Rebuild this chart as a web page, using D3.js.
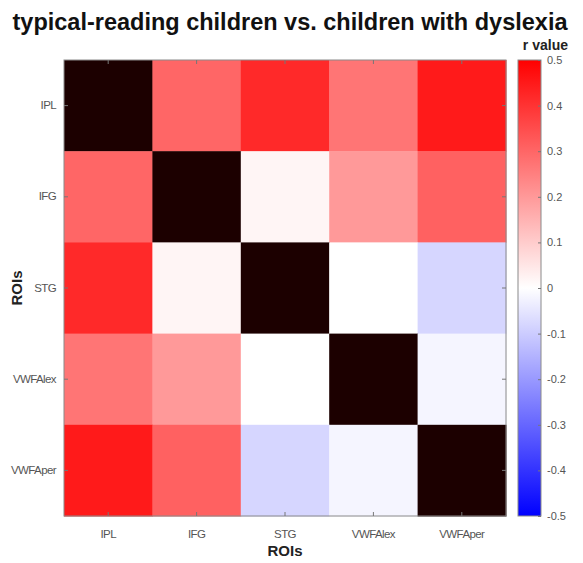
<!DOCTYPE html>
<html><head><meta charset="utf-8">
<script src="https://cdn.jsdelivr.net/npm/d3@7"></script>
<style>body{margin:0;background:#fff}</style>
</head><body>
<svg id="c" width="583" height="563"></svg>
<script>
const rois = ["IPL","IFG","STG","VWFAlex","VWFAper"];
// upper-triangle r values (symmetric matrix); diagonal drawn dark
const pairs = [
  ["IPL","IFG",0.30],["IPL","STG",0.42],["IPL","VWFAlex",0.27],["IPL","VWFAper",0.45],
  ["IFG","STG",0.02],["IFG","VWFAlex",0.20],["IFG","VWFAper",0.31],
  ["STG","VWFAlex",0.0],["STG","VWFAper",-0.08],
  ["VWFAlex","VWFAper",-0.02]
];
const cbTicks = [0.5,0.4,0.3,0.2,0.1,0,-0.1,-0.2,-0.3,-0.4,-0.5];
const titleText = "typical-reading children vs. children with dyslexia";

const cells = [];
rois.forEach(r=>rois.forEach(c=>{
  if(r===c){cells.push({r,c,v:null});return;}
  const p = pairs.find(d=>(d[0]===r&&d[1]===c)||(d[0]===c&&d[1]===r));
  cells.push({r,c,v:p[2]});
}));

const svg = d3.select("#c");
const L=64,R=506,T=60,B=516;
const x = d3.scaleBand().domain(rois).range([L,R]);
const y = d3.scaleBand().domain(rois).range([T,B]);
const color = d3.scaleLinear().domain([-0.5,0,0.5]).range(["#0000ff","#ffffff","#ff0000"]).clamp(true);

svg.append("g").selectAll("rect").data(cells).join("rect")
  .attr("x",d=>x(d.c)).attr("y",d=>y(d.r))
  .attr("width",x.bandwidth()+0.5).attr("height",y.bandwidth()+0.5)
  .attr("fill",d=>d.v===null?"#1c0000":color(d.v));

svg.append("rect").attr("x",L).attr("y",T).attr("width",R-L).attr("height",B-T)
  .attr("fill","none").attr("stroke","#8a8a8a").attr("stroke-width",1);

const tickCol="#777";
const font="Liberation Sans, Arial, sans-serif";
// axes
const xb = svg.append("g").attr("transform",`translate(0,${B})`)
  .call(d3.axisBottom(x).tickSizeInner(-4).tickSizeOuter(0).tickPadding(14));
const xt = svg.append("g").attr("transform",`translate(0,${T})`)
  .call(d3.axisTop(x).tickSizeInner(-4).tickSizeOuter(0).tickFormat(""));
const yl = svg.append("g").attr("transform",`translate(${L},0)`)
  .call(d3.axisLeft(y).tickSizeInner(-4).tickSizeOuter(0).tickPadding(8));
const yr = svg.append("g").attr("transform",`translate(${R},0)`)
  .call(d3.axisRight(y).tickSizeInner(-4).tickSizeOuter(0).tickFormat(""));
[xb,xt,yl,yr].forEach(g=>{
  g.select(".domain").remove();
  g.selectAll("line").attr("stroke",tickCol);
  g.selectAll("text").attr("fill","#555").style("font-family",font).style("font-size","11.5px").attr("letter-spacing","-0.6px");
});

// colorbar
const CL=518,CR=541;
const cy = d3.scaleLinear().domain([-0.5,0.5]).range([B,T]);
const defs = svg.append("defs");
const grad = defs.append("linearGradient").attr("id","g").attr("x1",0).attr("y1",1).attr("x2",0).attr("y2",0);
grad.selectAll("stop").data([-0.5,0,0.5]).join("stop")
  .attr("offset",d=>(d+0.5)).attr("stop-color",d=>color(d));
svg.append("rect").attr("x",CL).attr("y",T).attr("width",CR-CL).attr("height",B-T)
  .attr("fill","url(#g)").attr("stroke","#8a8a8a").attr("stroke-width",1);
const cb = svg.append("g").attr("transform",`translate(${CR},0)`)
  .call(d3.axisRight(cy).tickValues(cbTicks).tickSizeInner(-3).tickSizeOuter(0).tickPadding(6).tickFormat(d=>d===0?"0":d3.format(".1f")(d).replace("−","-")));
cb.select(".domain").remove();
cb.selectAll("line").attr("stroke",tickCol);
cb.selectAll("text").attr("fill","#555").style("font-family",font).style("font-size","11px");

// titles
svg.append("text").attr("x",290).attr("y",30).attr("text-anchor","middle")
  .style("font-family",font).style("font-weight","bold").style("font-size","23.5px")
  .attr("fill","#111").text(titleText);
svg.append("text").attr("x",568).attr("y",50).attr("text-anchor","end")
  .style("font-family",font).style("font-weight","bold").style("font-size","14px")
  .attr("fill","#222").text("r value");
svg.append("text").attr("x",(L+R)/2).attr("y",556).attr("text-anchor","middle")
  .style("font-family",font).style("font-weight","bold").style("font-size","15px")
  .attr("fill","#222").text("ROIs");
svg.append("text").attr("transform",`translate(22,${(T+B)/2}) rotate(-90)`).attr("text-anchor","middle")
  .style("font-family",font).style("font-weight","bold").style("font-size","15px")
  .attr("fill","#222").text("ROIs");
</script>
</body></html>
